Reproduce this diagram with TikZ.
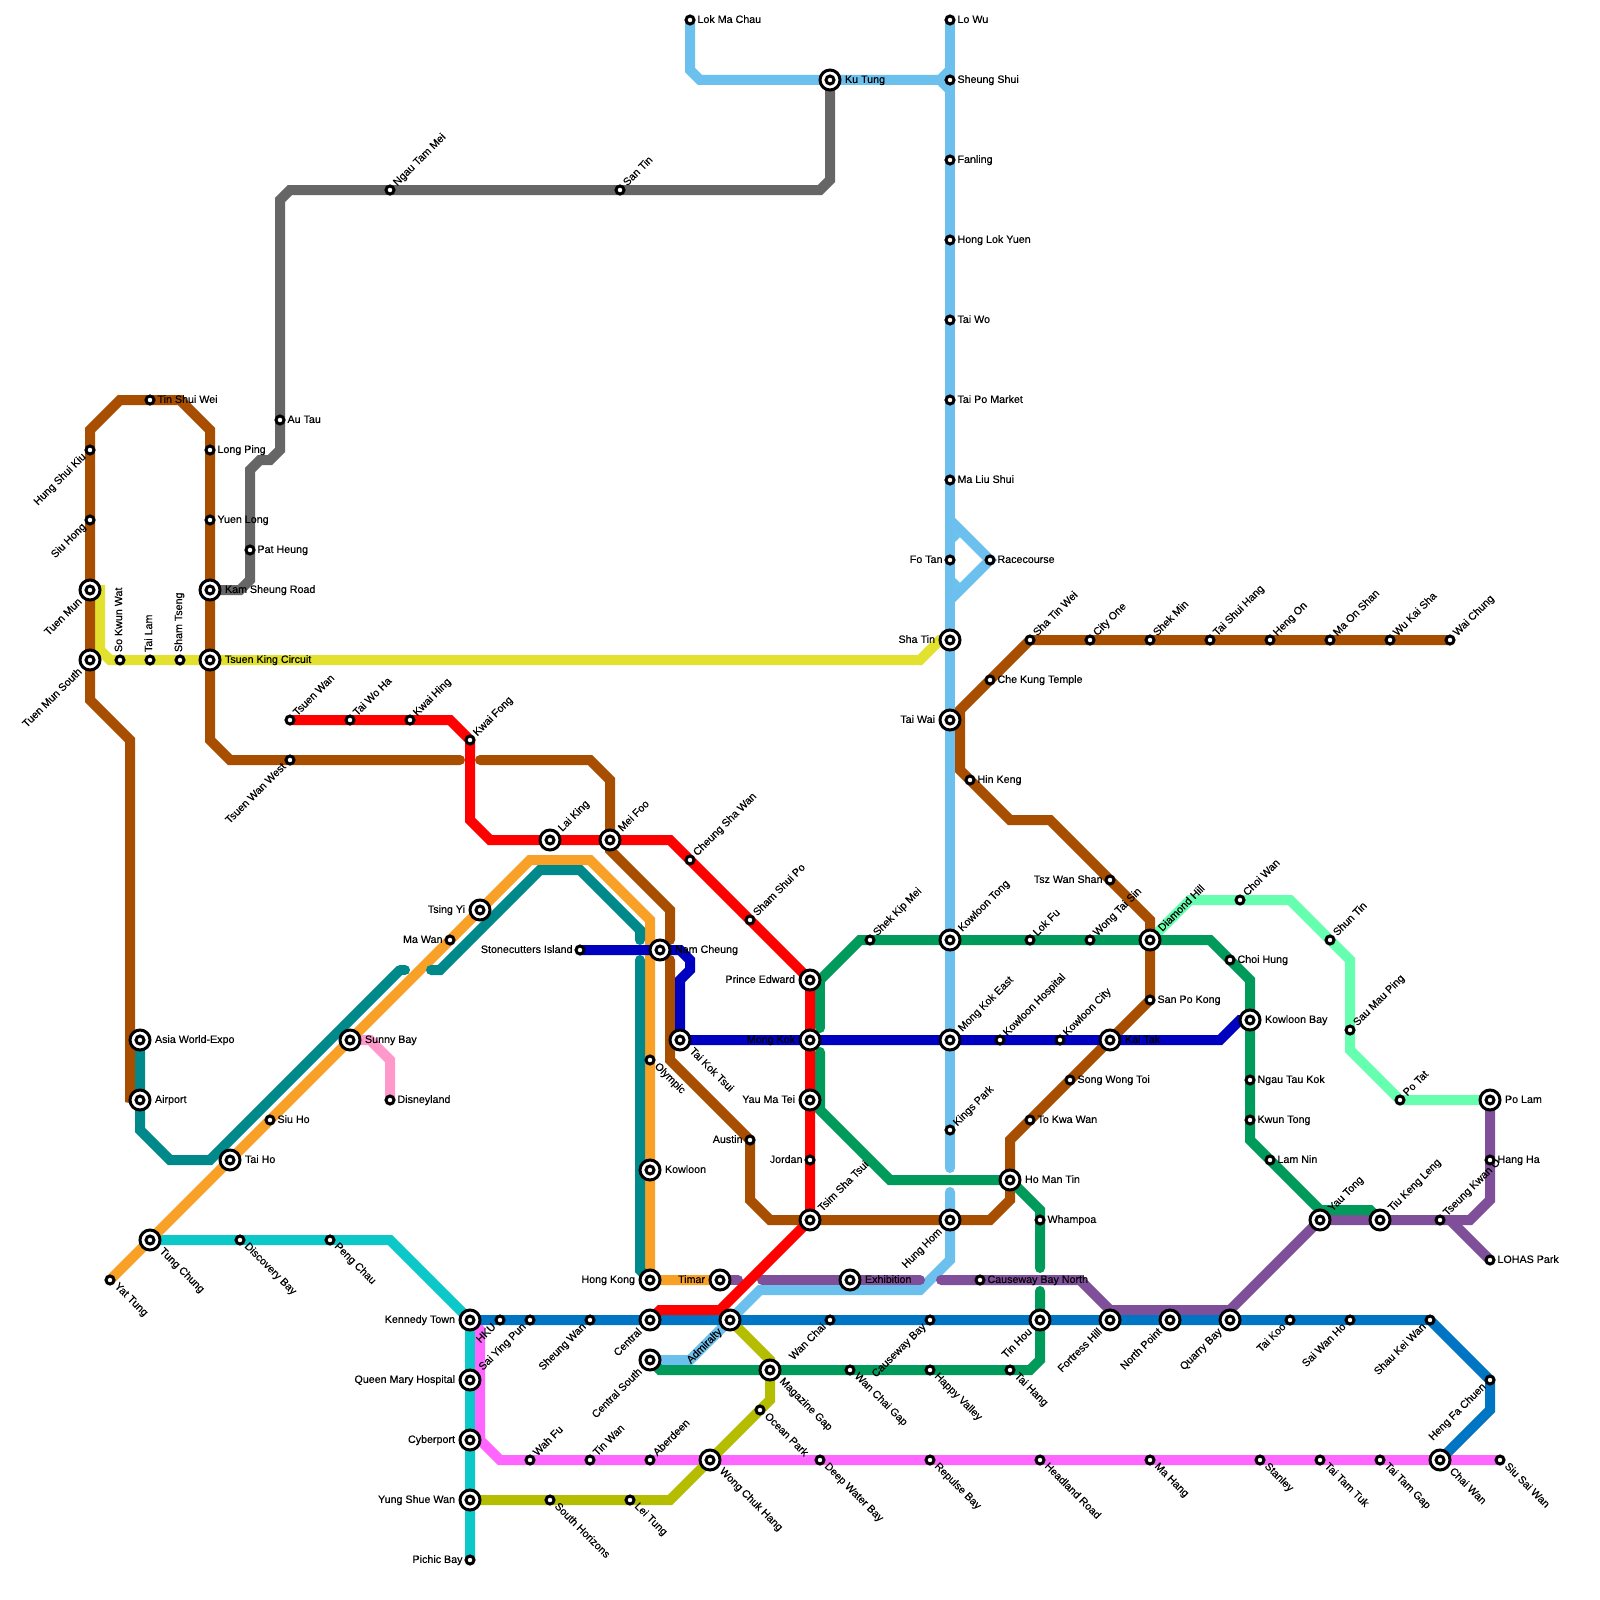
\documentclass[tikz,border=0pt]{standalone}
\usepackage{fontspec}
\setmainfont[FakeBold=0.25]{Liberation Sans}
\usetikzlibrary{backgrounds}
\definecolor{cBrown}{HTML}{A84E00}
\definecolor{cRed}{HTML}{FF0000}
\definecolor{cOrange}{HTML}{F9A026}
\definecolor{cTeal}{HTML}{00898A}
\definecolor{cNavy}{HTML}{0000C0}
\definecolor{cGreen}{HTML}{009A5A}
\definecolor{cSky}{HTML}{6CC0EE}
\definecolor{cPurple}{HTML}{7F4F9A}
\definecolor{cBlue}{HTML}{0075C4}
\definecolor{cMagenta}{HTML}{FF66FF}
\definecolor{cCyan}{HTML}{0CC8C8}
\definecolor{cOlive}{HTML}{B5BD00}
\definecolor{cYellow}{HTML}{E1E12E}
\definecolor{cGrey}{HTML}{666666}
\definecolor{cMint}{HTML}{66FFB0}
\definecolor{cPink}{HTML}{FF99CC}
\tikzset{
  small/.style={circle,draw=black,fill=white,line width=3pt,minimum size=8pt,inner sep=0pt},
  big/.style={circle,draw=black,fill=white,line width=3pt,minimum size=20pt,inner sep=0pt,
    path picture={\draw[black,line width=3pt] (path picture bounding box.center) circle[radius=4pt];}},
  lbl/.style={inner sep=0pt,outer sep=0pt,font=\fontsize{10.7pt}{12pt}\selectfont,text=black},
  Rsmall/.style={shift={(7.5,0.3)},anchor=mid west},
  Rbig/.style={shift={(15,0.3)},anchor=mid west},
  Lsmall/.style={shift={(-7.5,0.3)},anchor=mid east},
  Lbig/.style={shift={(-15,0.3)},anchor=mid east},
  URsmall/.style={shift={(5.5,-5.5)},rotate=45,anchor=mid west},
  URbig/.style={shift={(10.5,-10)},rotate=45,anchor=mid west},
  DRsmall/.style={shift={(6,5)},rotate=-45,anchor=mid west},
  DRbig/.style={shift={(11,10)},rotate=-45,anchor=mid west},
  DLsmall/.style={shift={(-5.5,5.5)},rotate=45,anchor=mid east},
  DLbig/.style={shift={(-9.5,10.5)},rotate=45,anchor=mid east},
  Usmall/.style={shift={(-0.5,-8)},rotate=90,anchor=mid west},
  route/.style={line width=10pt,line join=miter,line cap=butt},
  routeEnd/.style={line width=10pt,line join=miter,line cap=round},
}
\newcommand{\sta}[6]{%
  \node[#4] (#1) at (#2,#3) {};
  \node[lbl,#5#4] (#1-t) at (#1.center) {#6};
}
\begin{document}
\begin{tikzpicture}[x=1pt,y=-1pt]
\useasboundingbox (0,0) rectangle (1600,1600);
% West
\sta{hsk}{90}{450}{small}{DL}{Hung Shui Kiu}
\sta{shg}{90}{520}{small}{DL}{Siu Hong}
\sta{tum}{90}{590}{big}{DL}{Tuen Mun}
\sta{tms}{90}{660}{big}{DL}{Tuen Mun South}
\sta{skw}{120}{660}{small}{U}{So Kwun Wat}
\sta{tlm}{150}{660}{small}{U}{Tai Lam}
\sta{sts}{180}{660}{small}{U}{Sham Tseng}
\sta{tsw}{150}{400}{small}{R}{Tin Shui Wei}
\sta{lop}{210}{450}{small}{R}{Long Ping}
\sta{yul}{210}{520}{small}{R}{Yuen Long}
\sta{ksr}{210}{590}{big}{R}{Kam Sheung Road}
\sta{tkc}{210}{660}{big}{R}{Tsuen King Circuit}
\sta{aut}{280}{420}{small}{R}{Au Tau}
\sta{pah}{250}{550}{small}{R}{Pat Heung}
\sta{ntm}{390}{190}{small}{UR}{Ngau Tam Mei}
\sta{snt}{620}{190}{small}{UR}{San Tin}
\sta{twn}{290}{720}{small}{UR}{Tsuen Wan}
\sta{twh}{350}{720}{small}{UR}{Tai Wo Ha}
\sta{kwh}{410}{720}{small}{UR}{Kwai Hing}
\sta{kwf}{470}{740}{small}{UR}{Kwai Fong}
\sta{tww}{290}{760}{small}{DL}{Tsuen Wan West}
\sta{lak}{550}{840}{big}{UR}{Lai King}
\sta{mef}{610}{840}{big}{UR}{Mei Foo}
\sta{csw}{690}{860}{small}{UR}{Cheung Sha Wan}
\sta{ssp}{750}{920}{small}{UR}{Sham Shui Po}
\sta{pre}{810}{980}{big}{L}{Prince Edward}
\sta{skm}{870}{940}{small}{UR}{Shek Kip Mei}
\sta{tsy}{480}{910}{big}{L}{Tsing Yi}
\sta{maw}{450}{940}{small}{L}{Ma Wan}
\sta{sci}{580}{950}{small}{L}{Stonecutters Island}
\sta{nac}{660}{950}{big}{R}{Nam Cheung}
\sta{tkt}{680}{1040}{big}{DR}{Tai Kok Tsui}
\sta{mok}{810}{1040}{big}{L}{Mong Kok}
\sta{oly}{650}{1060}{small}{DR}{Olympic}
\sta{ymt}{810}{1100}{big}{L}{Yau Ma Tei}
\sta{aus}{750}{1140}{small}{L}{Austin}
\sta{jor}{810}{1160}{small}{L}{Jordan}
\sta{kow}{650}{1170}{big}{R}{Kowloon}
\sta{tst}{810}{1220}{big}{UR}{Tsim Sha Tsui}
\sta{hok}{650}{1280}{big}{L}{Hong Kong}
\sta{tim}{720}{1280}{big}{L}{Timar}
\sta{exh}{850}{1280}{big}{R}{Exhibition}
\sta{awe}{140}{1040}{big}{R}{Asia World-Expo}
\sta{air}{140}{1100}{big}{R}{Airport}
\sta{sun}{350}{1040}{big}{R}{Sunny Bay}
\sta{dis}{390}{1100}{small}{R}{Disneyland}
\sta{sih}{270}{1120}{small}{R}{Siu Ho}
\sta{tah}{230}{1160}{big}{R}{Tai Ho}
\sta{tuc}{150}{1240}{big}{DR}{Tung Chung}
\sta{yat}{110}{1280}{small}{DR}{Yat Tung}
\sta{dib}{240}{1240}{small}{DR}{Discovery Bay}
\sta{pec}{330}{1240}{small}{DR}{Peng Chau}
% Island
\sta{ket}{470}{1320}{big}{L}{Kennedy Town}
\sta{hku}{500}{1320}{small}{DL}{HKU}
\sta{syp}{530}{1320}{small}{DL}{Sai Ying Pun}
\sta{shw}{590}{1320}{small}{DL}{Sheung Wan}
\sta{cen}{650}{1320}{big}{DL}{Central}
\sta{adm}{730}{1320}{big}{DL}{Admiralty}
\sta{wac}{830}{1320}{small}{DL}{Wan Chai}
\sta{cab}{930}{1320}{small}{DL}{Causeway Bay}
\sta{thu}{1040}{1320}{big}{DL}{Tin Hou}
\sta{foh}{1110}{1320}{big}{DL}{Fortress Hill}
\sta{nop}{1170}{1320}{big}{DL}{North Point}
\sta{qub}{1230}{1320}{big}{DL}{Quarry Bay}
\sta{tak}{1290}{1320}{small}{DL}{Tai Koo}
\sta{swh}{1350}{1320}{small}{DL}{Sai Wan Ho}
\sta{skn}{1430}{1320}{small}{DL}{Shau Kei Wan}
\sta{hfc}{1490}{1380}{small}{DL}{Heng Fa Chuen}
\sta{cwa}{1440}{1460}{big}{DR}{Chai Wan}
\sta{ces}{650}{1360}{big}{DL}{Central South}
\sta{mag}{770}{1370}{big}{DR}{Magazine Gap}
\sta{wcg}{850}{1370}{small}{DR}{Wan Chai Gap}
\sta{hav}{930}{1370}{small}{DR}{Happy Valley}
\sta{tha}{1010}{1370}{small}{DR}{Tai Hang}
\sta{qmh}{470}{1380}{big}{L}{Queen Mary Hospital}
\sta{cyb}{470}{1440}{big}{L}{Cyberport}
\sta{wah}{530}{1460}{small}{UR}{Wah Fu}
\sta{tiw}{590}{1460}{small}{UR}{Tin Wan}
\sta{abe}{650}{1460}{small}{UR}{Aberdeen}
\sta{wch}{710}{1460}{big}{DR}{Wong Chuk Hang}
\sta{dwb}{820}{1460}{small}{DR}{Deep Water Bay}
\sta{rep}{930}{1460}{small}{DR}{Repulse Bay}
\sta{hea}{1040}{1460}{small}{DR}{Headland Road}
\sta{mah}{1150}{1460}{small}{DR}{Ma Hang}
\sta{stn}{1260}{1460}{small}{DR}{Stanley}
\sta{ttt}{1320}{1460}{small}{DR}{Tai Tam Tuk}
\sta{ttg}{1380}{1460}{small}{DR}{Tai Tam Gap}
\sta{ssw}{1500}{1460}{small}{DR}{Siu Sai Wan}
\sta{ysw}{470}{1500}{big}{L}{Yung Shue Wan}
\sta{soh}{550}{1500}{small}{DR}{South Horizons}
\sta{let}{630}{1500}{small}{DR}{Lei Tung}
\sta{ocp}{760}{1410}{small}{DR}{Ocean Park}
\sta{pib}{470}{1560}{small}{L}{Pichic Bay}
% North-South
\sta{low}{950}{20}{small}{R}{Lo Wu}
\sta{shs}{950}{80}{small}{R}{Sheung Shui}
\sta{fan}{950}{160}{small}{R}{Fanling}
\sta{hly}{950}{240}{small}{R}{Hong Lok Yuen}
\sta{taw}{950}{320}{small}{R}{Tai Wo}
\sta{tpm}{950}{400}{small}{R}{Tai Po Market}
\sta{mls}{950}{480}{small}{R}{Ma Liu Shui}
\sta{fot}{950}{560}{small}{L}{Fo Tan}
\sta{rac}{990}{560}{small}{R}{Racecourse}
\sta{sht}{950}{640}{big}{L}{Sha Tin}
\sta{twi}{950}{720}{big}{L}{Tai Wai}
\sta{lmc}{690}{20}{small}{R}{Lok Ma Chau}
\sta{kut}{830}{80}{big}{R}{Ku Tung}
\sta{ktg}{950}{940}{big}{UR}{Kowloon Tong}
\sta{mke}{950}{1040}{big}{UR}{Mong Kok East}
\sta{kip}{950}{1130}{small}{UR}{Kings Park}
\sta{hhm}{950}{1220}{big}{DL}{Hung Hom}
% East
\sta{stw}{1030}{640}{small}{UR}{Sha Tin Wei}
\sta{cko}{1090}{640}{small}{UR}{City One}
\sta{skn2}{1150}{640}{small}{UR}{Shek Min}
\sta{tsh}{1210}{640}{small}{UR}{Tai Shui Hang}
\sta{heo}{1270}{640}{small}{UR}{Heng On}
\sta{mos}{1330}{640}{small}{UR}{Ma On Shan}
\sta{wks}{1390}{640}{small}{UR}{Wu Kai Sha}
\sta{wai}{1450}{640}{small}{UR}{Wai Chung}
\sta{ckt}{990}{680}{small}{R}{Che Kung Temple}
\sta{hik}{970}{780}{small}{R}{Hin Keng}
\sta{tzs}{1110}{880}{small}{L}{Tsz Wan Shan}
\sta{dih}{1150}{940}{big}{UR}{Diamond Hill}
\sta{lof}{1030}{940}{small}{UR}{Lok Fu}
\sta{wts}{1090}{940}{small}{UR}{Wong Tai Sin}
\sta{spk}{1150}{1000}{small}{R}{San Po Kong}
\sta{kaH}{1000}{1040}{small}{UR}{Kowloon Hospital}
\sta{kwc}{1060}{1040}{small}{UR}{Kowloon City}
\sta{kat}{1110}{1040}{big}{R}{Kai Tak}
\sta{swt}{1070}{1080}{small}{R}{Song Wong Toi}
\sta{tkw}{1030}{1120}{small}{R}{To Kwa Wan}
\sta{hmt}{1010}{1180}{big}{R}{Ho Man Tin}
\sta{wha}{1040}{1220}{small}{R}{Whampoa}
\sta{cbn}{980}{1280}{small}{R}{Causeway Bay North}
\sta{cwn}{1240}{900}{small}{UR}{Choi Wan}
\sta{chh}{1230}{960}{small}{R}{Choi Hung}
\sta{klb}{1250}{1020}{big}{R}{Kowloon Bay}
\sta{ntk}{1250}{1080}{small}{R}{Ngau Tau Kok}
\sta{kwt}{1250}{1120}{small}{R}{Kwun Tong}
\sta{lam}{1270}{1160}{small}{R}{Lam Nin}
\sta{yat2}{1320}{1220}{big}{UR}{Yau Tong}
\sta{tkl}{1380}{1220}{big}{UR}{Tiu Keng Leng}
\sta{tko}{1440}{1220}{small}{UR}{Tseung Kwan O}
\sta{hah}{1490}{1160}{small}{R}{Hang Ha}
\sta{loh}{1490}{1260}{small}{R}{LOHAS Park}
\sta{pol}{1490}{1100}{big}{R}{Po Lam}
\sta{pot}{1400}{1100}{small}{UR}{Po Tat}
\sta{smp}{1350}{1030}{small}{UR}{Sau Mau Ping}
\sta{sht2}{1330}{940}{small}{UR}{Shun Tin}

\begin{scope}[on background layer]
\fill[white] (0,0) rectangle (1600,1600);
% sky (East Rail)
\draw[route,cSky] (low.center) -- (950,1168);
\draw[routeEnd,cSky] (950,1100) -- (950,1168);
\draw[route,cSky] (lmc.center) -- (690,70) -- (700,80) -- (kut.center) -- (940,80) -- (950,70);
\draw[route,cSky] (940,80) -- (950,90);
\draw[route,cSky] (950,520) -- (rac.center) -- (950,600);
\fill[cSky] (955,532) -- (960,537) -- (955,542) -- cycle;
\fill[cSky] (955,578) -- (960,583) -- (955,588) -- cycle;
\draw[routeEnd,cSky] (950,1192) -- (950,1200);
\draw[route,cSky] (950,1192) -- (950,1260) -- (920,1290) -- (760,1290) -- (690,1360) -- (ces.center);
% yellow
\draw[route,cYellow] (tum.center) -- (100,590) -- (100,650) -- (110,660) -- (920,660) -- (940,640) -- (sht.center);
% grey
\draw[route,cGrey] (ksr.center) -- (240,590) -- (250,580) -- (250,470) -- (260,460) -- (270,460) -- (280,450) -- (280,200) -- (290,190) -- (820,190) -- (830,180) -- (kut.center);
% cyan
\draw[route,cCyan] (tuc.center) -- (390,1240) -- (ket.center) -- (pib.center);
% magenta
\draw[route,cMagenta] (ket.center) -- (480,1330) -- (480,1440) -- (500,1460) -- (ssw.center);
% olive
\draw[route,cOlive] (ysw.center) -- (670,1500) -- (770,1400) -- (mag.center) -- (770,1360) -- (adm.center);
% mint
\draw[route,cMint] (dih.center) -- (1190,900) -- (1290,900) -- (1350,960) -- (1350,1050) -- (1400,1100) -- (pol.center);
% pink
\draw[route,cPink] (sun.center) -- (370,1040) -- (390,1060) -- (dis.center);
% orange
\draw[route,cOrange] (yat.center) -- (530,860) -- (590,860) -- (650,920) -- (hok.center) -- (tim.center);
% teal
\draw[route,cTeal] (awe.center) -- (140,1130) -- (170,1160) -- (210,1160) -- (400,970);
\draw[routeEnd,cTeal] (400,970) -- (405,970);
\draw[routeEnd,cTeal] (431,970) -- (440,970);
\draw[route,cTeal] (431,970) -- (440,970) -- (540,870) -- (580,870) -- (640,930) -- (640,940);
\draw[routeEnd,cTeal] (640,935) -- (640,940);
\draw[routeEnd,cTeal] (640,960) -- (640,970);
\draw[route,cTeal] (640,960) -- (640,1270) -- (hok.center);
% brown
\draw[route,cBrown] (air.center) -- (130,1098) -- (130,740) -- (90,700) -- (90,430) -- (120,400) -- (180,400) -- (210,430) -- (210,740) -- (230,760) -- (460,760);
\draw[routeEnd,cBrown] (450,760) -- (460,760);
\draw[routeEnd,cBrown] (480,760) -- (490,760);
\draw[route,cBrown] (480,760) -- (590,760) -- (610,780) -- (610,850) -- (670,910) -- (670,940);
\draw[routeEnd,cBrown] (670,930) -- (670,940);
\draw[routeEnd,cBrown] (670,960) -- (670,970);
\draw[route,cBrown] (670,960) -- (670,1060) -- (750,1140) -- (750,1200) -- (770,1220) -- (990,1220) -- (1010,1200) -- (1010,1140) -- (1150,1000) -- (1150,920) -- (1050,820) -- (1010,820) -- (960,770) -- (960,710) -- (1030,640) -- (wai.center);
% purple
\draw[routeEnd,cPurple] (tim.center) -- (738,1280);
\draw[routeEnd,cPurple] (762,1280) -- (920,1280);
\draw[routeEnd,cPurple] (941,1280) -- (950,1280);
\draw[route,cPurple] (941,1280) -- (1080,1280) -- (1110,1310) -- (1230,1310) -- (1320,1220) -- (1470,1220) -- (1490,1200) -- (pol.center);
\draw[route,cPurple] (1450,1220) -- (loh.center);
% green
\draw[routeEnd,cGreen] (820,1020) -- (820,1028);
\draw[route,cGreen] (pre.center) -- (820,980) -- (860,940) -- (1210,940) -- (1250,980) -- (1250,1140) -- (1320,1210) -- (1370,1210) -- (tkl.center);
\draw[route,cGreen] (pre.center) -- (820,980) -- (820,1028);
\draw[routeEnd,cGreen] (820,1052) -- (820,1060);
\draw[route,cGreen] (820,1052) -- (820,1110) -- (890,1180) -- (1010,1180) -- (1040,1210) -- (1040,1268);
\draw[routeEnd,cGreen] (1040,1260) -- (1040,1268);
\draw[routeEnd,cGreen] (1040,1291) -- (1040,1300);
\draw[route,cGreen] (1040,1291) -- (1040,1360) -- (1030,1370) -- (660,1370) -- (ces.center);
% navy
\draw[route,cNavy] (sci.center) -- (680,950) -- (690,960) -- (690,970) -- (680,980) -- (680,1040) -- (1220,1040) -- (1240,1020) -- (klb.center);
% blue
\draw[route,cBlue] (ket.center) -- (skn.center) -- (hfc.center) -- (1490,1410) -- (cwa.center);
% red
\draw[route,cRed] (twn.center) -- (450,720) -- (470,740) -- (470,820) -- (490,840) -- (670,840) -- (810,980) -- (tst.center) -- (720,1310) -- (660,1310) -- (cen.center);
\end{scope}
\end{tikzpicture}
\end{document}
